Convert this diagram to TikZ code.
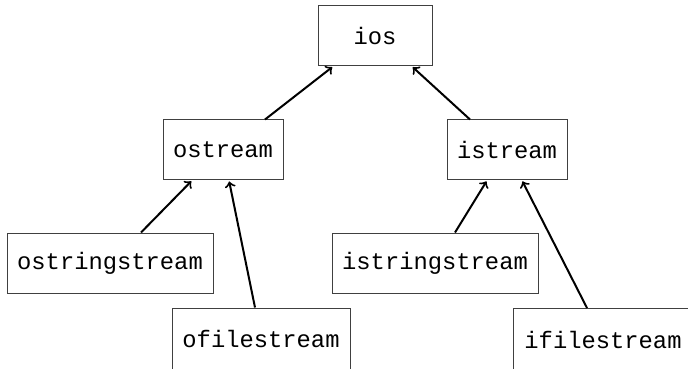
\documentclass[tikz,border=0pt]{standalone}
\usepackage{fontspec}
\setmonofont{Liberation Mono}
\usetikzlibrary{calc}
\begin{document}
\begin{tikzpicture}[x=0.5pt,y=-0.5pt,
  cls/.style={draw=black!75, line width=0.5pt, inner sep=0pt, anchor=center,
    font=\ttfamily\fontsize{11.9}{14}\selectfont, minimum height=30pt},
  inh/.style={draw=black, line width=1pt, ->, >=to, shorten >=0.5pt}]
\clip (0,0) rectangle (688,368);
\fill[white] (0,0) rectangle (688,368);
\node[cls, minimum width=57pt] (ios) at (375,36) {ios};
\node[cls, minimum width=60pt] (ostream) at (223,150) {ostream};
\node[cls, minimum width=60pt] (istream) at (507,150) {istream};
\node[cls, minimum width=103pt] (ostringstream) at (110,263) {ostringstream};
\node[cls, minimum width=103pt] (istringstream) at (435,263) {istringstream};
\node[cls, minimum width=89pt, minimum height=31pt] (ofilestream) at (261,339) {ofilestream};
\node[cls, minimum width=90pt, minimum height=31pt] (ifilestream) at (603,339.5) {ifilestream};
\draw[inh] ($(ostream.north)+(42,0)$) -- ($(ios.south)+(-42,0)$);
\draw[inh] ($(istream.north)+(-37,0)$) -- ($(ios.south)+(37,0)$);
\draw[inh] ($(ostringstream.north)+(31,0)$) -- ($(ostream.south)+(-31,0)$);
\draw[inh] ($(ofilestream.north)+(-6,0)$) -- ($(ostream.south)+(6,0)$);
\draw[inh] ($(istringstream.north)+(20,0)$) -- ($(istream.south)+(-20,0)$);
\draw[inh] ($(ifilestream.north)+(-16,0)$) -- ($(istream.south)+(15,0)$);
\end{tikzpicture}
\end{document}
